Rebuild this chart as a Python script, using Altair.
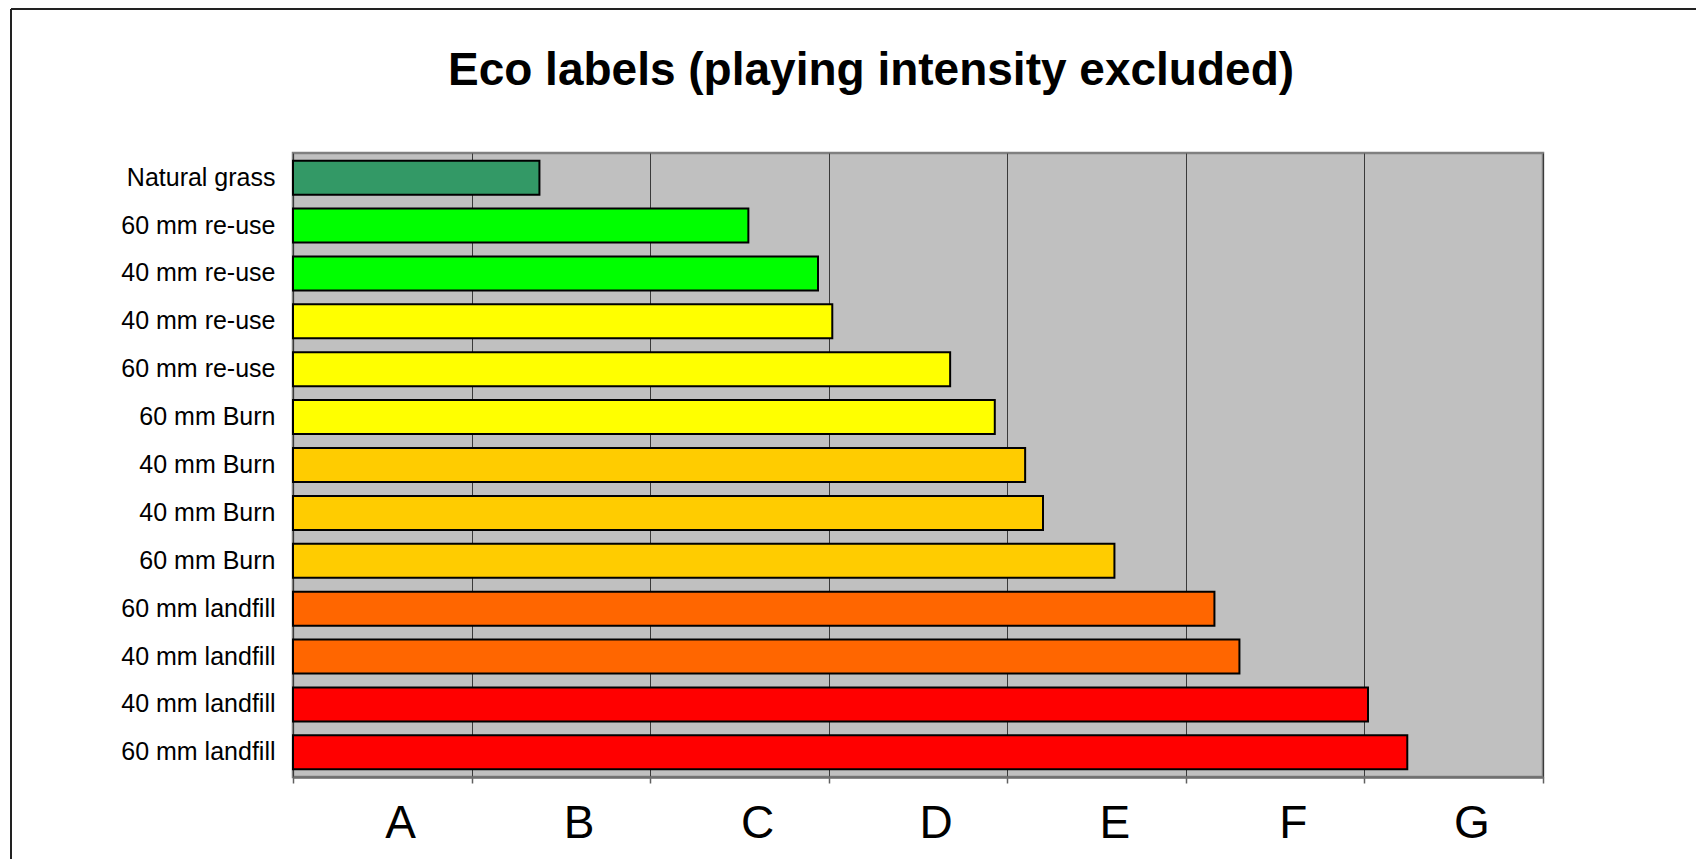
import json
import altair as alt
import pandas as pd

# ---- data ----
categories = [
    "Natural grass", "60 mm re-use", "40 mm re-use", "40 mm re-use",
    "60 mm re-use", "60 mm Burn", "40 mm Burn", "40 mm Burn",
    "60 mm Burn", "60 mm landfill", "40 mm landfill", "40 mm landfill",
    "60 mm landfill",
]
scores = [1.38, 2.55, 2.94, 3.02, 3.68, 3.93, 4.10, 4.20, 4.60, 5.16, 5.30, 6.02, 6.24]
tiers = ["natural", "green", "green", "yellow", "yellow", "yellow",
         "amber", "amber", "amber", "orange", "orange", "red", "red"]
grade_labels = ["A", "B", "C", "D", "E", "F", "G"]
title_text = ["Eco labels (playing intensity excluded)"]

tier_domain = ["natural", "green", "yellow", "amber", "orange", "red"]
tier_colors = ["#339966", "#00FF00", "#FFFF00", "#FFCC00", "#FF6600", "#FF0000"]

df = pd.DataFrame({
    "row": list(range(len(categories))),
    "name": categories,
    "score": scores,
    "tier": tiers,
})

y_expr = "[" + ",".join(json.dumps(c) for c in categories) + "][datum.value]"
x_expr = "[" + ",".join(json.dumps(g) for g in grade_labels + [""]) + "][datum.value]"

FONT = "Liberation Sans, Arial, sans-serif"

bars = alt.Chart(df).mark_bar(stroke="black", strokeWidth=2).encode(
    x=alt.X(
        "score:Q",
        scale=alt.Scale(domain=[0, 7], nice=False, zero=True),
        axis=alt.Axis(
            values=list(range(8)), labelExpr=x_expr, title=None,
            grid=True, gridColor="#3a3a3a", gridWidth=1, gridOpacity=1,
            domainColor="#707070", domainWidth=2.5,
            tickColor="#606060", tickSize=6, tickWidth=1.5,
            labelFontSize=46, labelFont=FONT, labelColor="black",
            labelOffset=107, labelPadding=54, labelBaseline="alphabetic",
            labelFlush=False, labelOverlap=False, labelBound=False,
        ),
    ),
    y=alt.Y(
        "row:O",
        scale=alt.Scale(paddingInner=0.29, paddingOuter=0.16),
        axis=alt.Axis(
            labelExpr=y_expr, title=None, ticks=False, domain=False,
            labelFontSize=25, labelFont=FONT, labelColor="black",
            labelPadding=18, labelLimit=400,
        ),
    ),
    color=alt.Color("tier:N", scale=alt.Scale(domain=tier_domain, range=tier_colors), legend=None),
)

one = pd.DataFrame({"k": [0]})
frame_top = alt.Chart(one).mark_rule(color="#222222", strokeWidth=2).encode(
    x=alt.value(-282), x2=alt.value(1500), y=alt.value(-144), y2=alt.value(-144)
)
frame_left = alt.Chart(one).mark_rule(color="#222222", strokeWidth=2).encode(
    x=alt.value(-282), x2=alt.value(-282), y=alt.value(-144), y2=alt.value(900)
)

title = alt.Chart(pd.DataFrame({"t": title_text})).mark_text(
    font=FONT, fontSize=46, fontWeight="bold", color="black",
    align="center", baseline="alphabetic",
).encode(text="t:N", x=alt.value(578), y=alt.value(-68))

chart = alt.layer(frame_top, frame_left, bars, title).properties(
    width=1250,
    height=624,
    background="white",
    autosize=alt.AutoSizeParams(type="none"),
    padding={"left": 285, "top": 145, "right": 153, "bottom": 82},
).configure_view(
    fill="#C0C0C0", stroke="#808080", strokeWidth=2.5
)

chart.save("out.html", embed_options={"renderer": "svg", "actions": False})
